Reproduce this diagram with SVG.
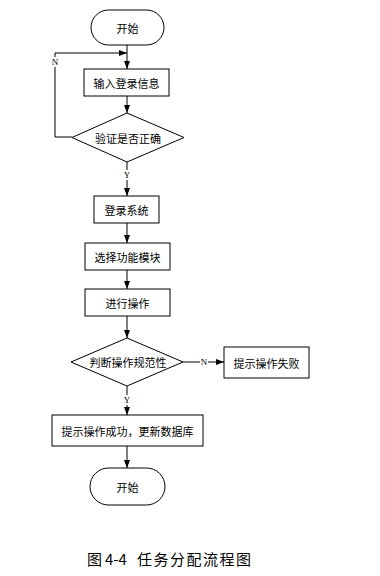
<svg xmlns="http://www.w3.org/2000/svg" width="380" height="576" viewBox="0 0 380 576">
<style>
.s{fill:#fff;stroke:#000;stroke-width:1}
.t{font-family:"Noto Sans CJK SC","Noto Sans",sans-serif;font-size:11px;fill:#000;text-anchor:middle;dominant-baseline:central}
.l{fill:none;stroke:#000;stroke-width:1}
.lb{font-family:"Liberation Serif",serif;font-size:9px;fill:#000;text-anchor:middle;dominant-baseline:central}
.cap{font-family:"Noto Sans CJK SC","Noto Sans",sans-serif;font-size:15px;fill:#000}
</style>
<defs>
<marker id="a" markerUnits="userSpaceOnUse" markerWidth="9" markerHeight="7" refX="8" refY="3" orient="auto"><path d="M0,0 L8,3 L0,6 z" fill="#000"/></marker>
</defs>
<rect width="380" height="576" fill="#fff"/>
<g id="connectors">
<path class="l" d="M127,45 V69" marker-end="url(#a)"/>
<path class="l" d="M127,96 V113" marker-end="url(#a)"/>
<path class="l" d="M72,137 H55 V53 H127" marker-end="url(#a)"/>
<path class="l" d="M127,162 V196" marker-end="url(#a)"/>
<path class="l" d="M127,223 V243" marker-end="url(#a)"/>
<path class="l" d="M127,270 V289" marker-end="url(#a)"/>
<path class="l" d="M127,316 V338" marker-end="url(#a)"/>
<path class="l" d="M183,362 H224" marker-end="url(#a)"/>
<path class="l" d="M127,386 V415" marker-end="url(#a)"/>
<path class="l" d="M127,446 V468" marker-end="url(#a)"/>
<rect x="51" y="57" width="8" height="10" fill="#fff"/>
<text class="lb" x="55" y="62">N</text>
<rect x="123" y="170" width="8" height="10" fill="#fff"/>
<text class="lb" x="127" y="175">Y</text>
<rect x="200" y="357" width="8" height="10" fill="#fff"/>
<text class="lb" x="204" y="362">N</text>
<rect x="123" y="395" width="8" height="10" fill="#fff"/>
<text class="lb" x="127" y="400">Y</text>
</g>
<g id="start"><rect class="s" x="91" y="10" width="73" height="35" rx="17.5"/><text class="t" x="127.5" y="27.5">开始</text></g>
<g id="input"><rect class="s" x="84" y="69" width="85" height="27"/><text class="t" x="126.5" y="82.5">输入登录信息</text></g>
<g id="verify"><polygon class="s" points="127,113 184,137.5 127,162 72,137.5"/><text class="t" x="128" y="137.5">验证是否正确</text></g>
<g id="login"><rect class="s" x="94" y="196" width="65" height="27"/><text class="t" x="126.5" y="209.5">登录系统</text></g>
<g id="select"><rect class="s" x="85" y="243" width="85" height="27"/><text class="t" x="127.5" y="256.5">选择功能模块</text></g>
<g id="operate"><rect class="s" x="85" y="289" width="85" height="27"/><text class="t" x="127.5" y="302.5">进行操作</text></g>
<g id="check"><polygon class="s" points="127,338 183,362 127,386 71,362"/><text class="t" x="128" y="362">判断操作规范性</text></g>
<g id="fail"><rect class="s" x="224" y="347" width="85" height="31"/><text class="t" x="266.5" y="362.5">提示操作失败</text></g>
<g id="success"><rect class="s" x="52" y="415" width="151" height="31"/><text class="t" x="127.5" y="430.5">提示操作成功，更新数据库</text></g>
<g id="end"><rect class="s" x="90" y="468" width="75" height="37" rx="18.5"/><text class="t" x="127.5" y="486.5">开始</text></g>
<g id="caption"><text class="cap" x="87" y="565">图</text><text class="cap" x="105" y="565" font-family="Liberation Sans, sans-serif">4-4</text><text class="cap" x="137" y="565" letter-spacing="1.5">任务分配流程图</text></g>
</svg>
